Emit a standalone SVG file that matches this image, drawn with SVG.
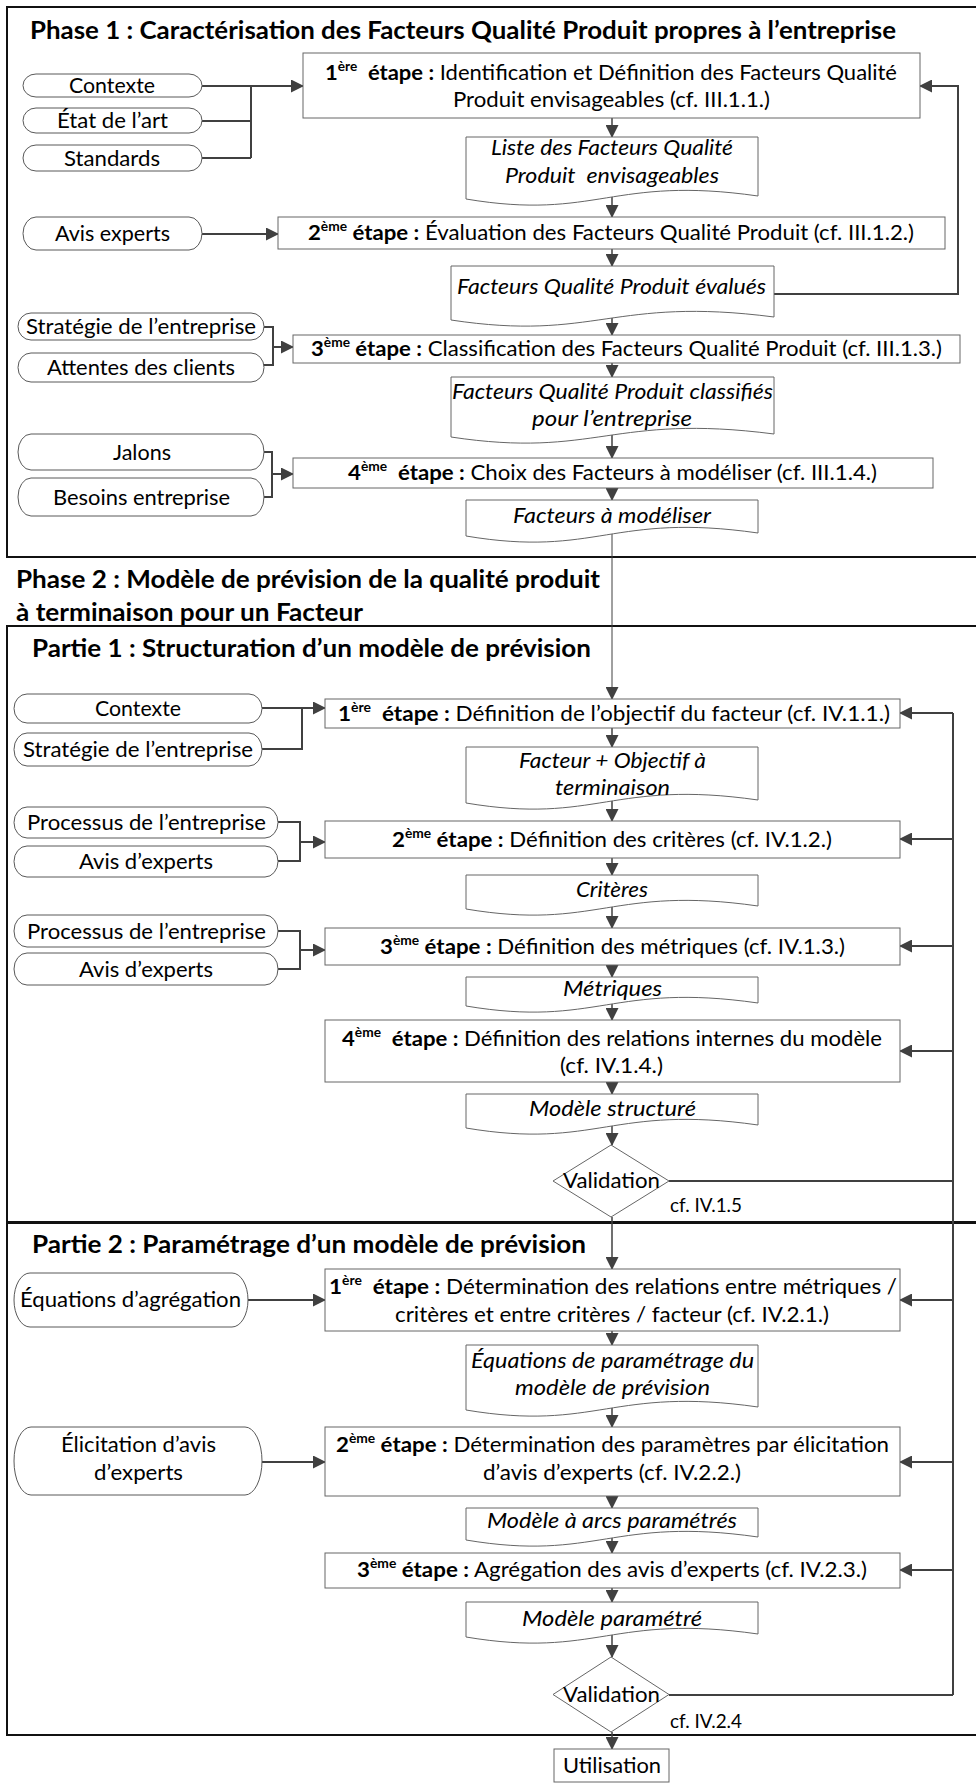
<svg xmlns="http://www.w3.org/2000/svg" width="976" height="1783" viewBox="0 0 976 1783">
<defs>
<marker id="ah" markerUnits="userSpaceOnUse" markerWidth="13" markerHeight="13" refX="12" refY="6.5" orient="auto"><path d="M0,0 L13,6.5 L0,13 z" fill="#404040"/></marker>
<style>
.frame{fill:none;stroke:#111;stroke-width:2}
.box{fill:#fff;stroke:#666;stroke-width:1}
.pill{fill:#fff;stroke:#595959;stroke-width:1}
.doc{fill:#fff;stroke:#666;stroke-width:1}
.c{fill:none;stroke:#404040;stroke-width:2}
.cs{fill:none;stroke:#404040;stroke-width:1.5}
.ct{fill:none;stroke:#404040;stroke-width:1}
.t{font-family:Lato,"Liberation Sans",sans-serif;font-size:21px;fill:#000}
.s{font-family:Lato,"Liberation Sans",sans-serif;font-size:20px;fill:#000}
.h{font-family:Lato,"Liberation Sans",sans-serif;font-size:25px;font-weight:bold;fill:#000}
.b{font-weight:bold}
.i{font-style:italic}
.sup{font-size:13px;font-weight:bold}
</style>
</defs>
<rect width="976" height="1783" fill="#fff"/>

<g id="frames">
<rect class="frame" x="7" y="7" width="980" height="550"/>
<rect class="frame" x="7" y="626" width="980" height="596"/>
<rect class="frame" x="7" y="1223" width="980" height="512"/>
</g>

<g id="titles">
<text class="h" x="30" y="39" textLength="866" lengthAdjust="spacingAndGlyphs">Phase 1 : Caractérisation des Facteurs Qualité Produit propres à l’entreprise</text>
<text class="h" x="16" y="588" textLength="584" lengthAdjust="spacingAndGlyphs">Phase 2 : Modèle de prévision de la qualité produit</text>
<text class="h" x="16" y="621" textLength="347" lengthAdjust="spacingAndGlyphs">à terminaison pour un Facteur</text>
<text class="h" x="32" y="657" textLength="559" lengthAdjust="spacingAndGlyphs">Partie 1 : Structuration d’un modèle de prévision</text>
<text class="h" x="32" y="1253" textLength="554" lengthAdjust="spacingAndGlyphs">Partie 2 : Paramétrage d’un modèle de prévision</text>
</g>

<g id="connectors">
<!-- Phase 1 -->
<path class="c" d="M202,86 H251 M202,121 H251 M202,158 H251 M251,86 V158"/>
<path class="c" d="M251,86 H303" marker-end="url(#ah)"/>
<path class="c" d="M202,234 H278" marker-end="url(#ah)"/>
<path class="c" d="M264,327 H273 V365 H264"/>
<path class="c" d="M273,347 H293" marker-end="url(#ah)"/>
<path class="c" d="M264,452 H272 V497 H264"/>
<path class="c" d="M272,474 H293" marker-end="url(#ah)"/>
<path class="cs" d="M612,118 V137" marker-end="url(#ah)"/>
<path class="cs" d="M612,197 V217" marker-end="url(#ah)"/>
<path class="cs" d="M612,249 V266" marker-end="url(#ah)"/>
<path class="cs" d="M612,318 V335" marker-end="url(#ah)"/>
<path class="cs" d="M612,363 V377" marker-end="url(#ah)"/>
<path class="cs" d="M612,435 V458" marker-end="url(#ah)"/>
<path class="cs" d="M612,488 V500" marker-end="url(#ah)"/>
<path class="c" d="M774,294 H958 V86 H920" marker-end="url(#ah)"/>
<path class="ct" d="M612,534 V699" marker-end="url(#ah)"/>
<!-- Partie 1 -->
<path class="c" d="M262,708 H325" marker-end="url(#ah)"/>
<path class="c" d="M262,749 H302 V708"/>
<path class="c" d="M278,822 H300 V861 H278"/>
<path class="c" d="M300,842 H325" marker-end="url(#ah)"/>
<path class="c" d="M278,931 H300 V969 H278"/>
<path class="c" d="M300,950 H325" marker-end="url(#ah)"/>
<path class="cs" d="M612,728 V747" marker-end="url(#ah)"/>
<path class="cs" d="M612,801 V821" marker-end="url(#ah)"/>
<path class="cs" d="M612,858 V875" marker-end="url(#ah)"/>
<path class="cs" d="M612,907 V928" marker-end="url(#ah)"/>
<path class="cs" d="M612,965 V977" marker-end="url(#ah)"/>
<path class="cs" d="M612,1004 V1020" marker-end="url(#ah)"/>
<path class="cs" d="M612,1082 V1094" marker-end="url(#ah)"/>
<path class="cs" d="M612,1126 V1145" marker-end="url(#ah)"/>
<path class="cs" d="M612,1217 V1269" marker-end="url(#ah)"/>
<path class="c" d="M669,1181 H953 M669,1695 H953 M953,1695 V713"/>
<path class="c" d="M953,713 H900" marker-end="url(#ah)"/>
<path class="c" d="M953,839 H900" marker-end="url(#ah)"/>
<path class="c" d="M953,946 H900" marker-end="url(#ah)"/>
<path class="c" d="M953,1051 H900" marker-end="url(#ah)"/>
<!-- Partie 2 -->
<path class="c" d="M248,1300 H325" marker-end="url(#ah)"/>
<path class="c" d="M262,1462 H325" marker-end="url(#ah)"/>
<path class="c" d="M953,1300 H900" marker-end="url(#ah)"/>
<path class="c" d="M953,1462 H900" marker-end="url(#ah)"/>
<path class="c" d="M953,1570 H900" marker-end="url(#ah)"/>
<path class="cs" d="M612,1331 V1345" marker-end="url(#ah)"/>
<path class="cs" d="M612,1408 V1427" marker-end="url(#ah)"/>
<path class="cs" d="M612,1496 V1508" marker-end="url(#ah)"/>
<path class="cs" d="M612,1538 V1553" marker-end="url(#ah)"/>
<path class="cs" d="M612,1588 V1602" marker-end="url(#ah)"/>
<path class="cs" d="M612,1635 V1657" marker-end="url(#ah)"/>
<path class="cs" d="M612,1732 V1749" marker-end="url(#ah)"/>
</g>

<!-- Phase 1 nodes -->
<g id="p1-step1">
<rect class="box" x="303" y="53" width="617" height="65"/>
<text class="t" x="325" y="80" textLength="572" lengthAdjust="spacingAndGlyphs"><tspan class="b">1</tspan><tspan class="sup" dy="-9">ère</tspan><tspan class="b" dy="9">&#160;&#160;étape :</tspan> Identification et Définition des Facteurs Qualité</text>
<text class="t" x="453" y="107" textLength="317" lengthAdjust="spacingAndGlyphs">Produit envisageables (cf. III.1.1.)</text>
</g>
<g id="p1-contexte"><rect class="pill" x="23" y="74" width="179" height="23" rx="13" ry="11.5"/><text class="t" x="69" y="93" textLength="86" lengthAdjust="spacingAndGlyphs">Contexte</text></g>
<g id="p1-etat"><rect class="pill" x="23" y="108" width="179" height="25" rx="13" ry="12.5"/><text class="t" x="57" y="128" textLength="111" lengthAdjust="spacingAndGlyphs">État de l’art</text></g>
<g id="p1-standards"><rect class="pill" x="23" y="145" width="179" height="26" rx="13" ry="13"/><text class="t" x="64" y="166" textLength="96" lengthAdjust="spacingAndGlyphs">Standards</text></g>
<g id="p1-doc1">
<path class="doc" d="M466,137 H758 V196 C612,175 597,221 466,199 Z"/>
<text class="t i" x="491" y="155" textLength="242" lengthAdjust="spacingAndGlyphs">Liste des Facteurs Qualité</text>
<text class="t i" x="505" y="183" textLength="214" lengthAdjust="spacingAndGlyphs">Produit&#160; envisageables</text>
</g>
<g id="p1-avis"><rect class="pill" x="23" y="217" width="179" height="33" rx="13" ry="16.5"/><text class="t" x="55" y="241" textLength="115" lengthAdjust="spacingAndGlyphs">Avis experts</text></g>
<g id="p1-step2">
<rect class="box" x="278" y="217" width="667" height="32"/>
<text class="t" x="308" y="240" textLength="606" lengthAdjust="spacingAndGlyphs"><tspan class="b">2</tspan><tspan class="sup" dy="-9">ème</tspan><tspan class="b" dy="9"> étape :</tspan> Évaluation des Facteurs Qualité Produit (cf. III.1.2.)</text>
</g>
<g id="p1-doc2">
<path class="doc" d="M451,266 H774 V317 C612,296 596,342 451,320 Z"/>
<text class="t i" x="457" y="294" textLength="309" lengthAdjust="spacingAndGlyphs">Facteurs Qualité Produit évalués</text>
</g>
<g id="p1-strategie"><rect class="pill" x="18" y="313" width="246" height="27" rx="13" ry="13.5"/><text class="t" x="26" y="334" textLength="230" lengthAdjust="spacingAndGlyphs">Stratégie de l’entreprise</text></g>
<g id="p1-attentes"><rect class="pill" x="18" y="353" width="246" height="29" rx="13" ry="14.5"/><text class="t" x="47" y="375" textLength="188" lengthAdjust="spacingAndGlyphs">Attentes des clients</text></g>
<g id="p1-step3">
<rect class="box" x="293" y="335" width="667" height="28"/>
<text class="t" x="311" y="356" textLength="631" lengthAdjust="spacingAndGlyphs"><tspan class="b">3</tspan><tspan class="sup" dy="-9">ème</tspan><tspan class="b" dy="9"> étape :</tspan> Classification des Facteurs Qualité Produit (cf. III.1.3.)</text>
</g>
<g id="p1-doc3">
<path class="doc" d="M451,377 H774 V434 C612,413 596,459 451,437 Z"/>
<text class="t i" x="452" y="399" textLength="321" lengthAdjust="spacingAndGlyphs">Facteurs Qualité Produit classifiés</text>
<text class="t i" x="532" y="426" textLength="160" lengthAdjust="spacingAndGlyphs">pour l’entreprise</text>
</g>
<g id="p1-jalons"><rect class="pill" x="18" y="434" width="246" height="36" rx="13" ry="18"/><text class="t" x="113" y="460" textLength="58" lengthAdjust="spacingAndGlyphs">Jalons</text></g>
<g id="p1-besoins"><rect class="pill" x="18" y="478" width="246" height="38" rx="13" ry="19"/><text class="t" x="53" y="505" textLength="177" lengthAdjust="spacingAndGlyphs">Besoins entreprise</text></g>
<g id="p1-step4">
<rect class="box" x="293" y="458" width="640" height="30"/>
<text class="t" x="348" y="480" textLength="529" lengthAdjust="spacingAndGlyphs"><tspan class="b">4</tspan><tspan class="sup" dy="-9">ème</tspan><tspan class="b" dy="9">&#160;&#160;étape :</tspan> Choix des Facteurs à modéliser (cf. III.1.4.)</text>
</g>
<g id="p1-doc4">
<path class="doc" d="M466,500 H758 V533 C612,512 597,558 466,536 Z"/>
<text class="t i" x="513" y="523" textLength="198" lengthAdjust="spacingAndGlyphs">Facteurs à modéliser</text>
</g>

<!-- Partie 1 nodes -->
<g id="pa1-contexte"><rect class="pill" x="14" y="694" width="248" height="29" rx="13" ry="14.5"/><text class="t" x="95" y="716" textLength="86" lengthAdjust="spacingAndGlyphs">Contexte</text></g>
<g id="pa1-strategie"><rect class="pill" x="14" y="733" width="248" height="33" rx="13" ry="16.5"/><text class="t" x="23" y="757" textLength="230" lengthAdjust="spacingAndGlyphs">Stratégie de l’entreprise</text></g>
<g id="pa1-step1">
<rect class="box" x="325" y="699" width="575" height="29"/>
<text class="t" x="338" y="721" textLength="552" lengthAdjust="spacingAndGlyphs"><tspan class="b">1</tspan><tspan class="sup" dy="-9">ère</tspan><tspan class="b" dy="9">&#160;&#160;étape :</tspan> Définition de l’objectif du facteur (cf. IV.1.1.)</text>
</g>
<g id="pa1-doc1">
<path class="doc" d="M466,747 H758 V800 C612,779 597,825 466,803 Z"/>
<text class="t i" x="519" y="768" textLength="187" lengthAdjust="spacingAndGlyphs">Facteur + Objectif à</text>
<text class="t i" x="555" y="795" textLength="115" lengthAdjust="spacingAndGlyphs">terminaison</text>
</g>
<g id="pa1-processus1"><rect class="pill" x="14" y="807" width="264" height="31" rx="13" ry="15.5"/><text class="t" x="27" y="830" textLength="239" lengthAdjust="spacingAndGlyphs">Processus de l’entreprise</text></g>
<g id="pa1-avis1"><rect class="pill" x="14" y="846" width="264" height="31" rx="13" ry="15.5"/><text class="t" x="79" y="869" textLength="134" lengthAdjust="spacingAndGlyphs">Avis d’experts</text></g>
<g id="pa1-step2">
<rect class="box" x="325" y="821" width="575" height="37"/>
<text class="t" x="392" y="847" textLength="440" lengthAdjust="spacingAndGlyphs"><tspan class="b">2</tspan><tspan class="sup" dy="-9">ème</tspan><tspan class="b" dy="9"> étape :</tspan> Définition des critères (cf. IV.1.2.)</text>
</g>
<g id="pa1-doc2">
<path class="doc" d="M466,875 H758 V906 C612,885 597,931 466,909 Z"/>
<text class="t i" x="576" y="897" textLength="72" lengthAdjust="spacingAndGlyphs">Critères</text>
</g>
<g id="pa1-processus2"><rect class="pill" x="14" y="915" width="264" height="32" rx="13" ry="16"/><text class="t" x="27" y="939" textLength="239" lengthAdjust="spacingAndGlyphs">Processus de l’entreprise</text></g>
<g id="pa1-avis2"><rect class="pill" x="14" y="953" width="264" height="32" rx="13" ry="16"/><text class="t" x="79" y="977" textLength="134" lengthAdjust="spacingAndGlyphs">Avis d’experts</text></g>
<g id="pa1-step3">
<rect class="box" x="325" y="928" width="575" height="37"/>
<text class="t" x="380" y="954" textLength="465" lengthAdjust="spacingAndGlyphs"><tspan class="b">3</tspan><tspan class="sup" dy="-9">ème</tspan><tspan class="b" dy="9"> étape :</tspan> Définition des métriques (cf. IV.1.3.)</text>
</g>
<g id="pa1-doc3">
<path class="doc" d="M466,977 H758 V1003 C612,982 597,1028 466,1006 Z"/>
<text class="t i" x="563" y="996" textLength="99" lengthAdjust="spacingAndGlyphs">Métriques</text>
</g>
<g id="pa1-step4">
<rect class="box" x="325" y="1020" width="575" height="62"/>
<text class="t" x="342" y="1046" textLength="540" lengthAdjust="spacingAndGlyphs"><tspan class="b">4</tspan><tspan class="sup" dy="-9">ème</tspan><tspan class="b" dy="9">&#160;&#160;étape :</tspan> Définition des relations internes du modèle</text>
<text class="t" x="560" y="1073" textLength="103" lengthAdjust="spacingAndGlyphs">(cf. IV.1.4.)</text>
</g>
<g id="pa1-doc4">
<path class="doc" d="M466,1094 H758 V1125 C612,1104 597,1150 466,1128 Z"/>
<text class="t i" x="529" y="1116" textLength="167" lengthAdjust="spacingAndGlyphs">Modèle structuré</text>
</g>
<g id="pa1-validation">
<path class="box" d="M611,1145 L669,1181 L611,1217 L553,1181 Z"/>
<text class="t" x="563" y="1188" textLength="97" lengthAdjust="spacingAndGlyphs">Validation</text>
<text class="s" x="670" y="1212" textLength="72" lengthAdjust="spacingAndGlyphs">cf. IV.1.5</text>
</g>

<!-- Partie 2 nodes -->
<g id="pa2-equations"><rect class="pill" x="14" y="1273" width="234" height="54" rx="16" ry="27"/><text class="t" x="20" y="1307" textLength="221" lengthAdjust="spacingAndGlyphs">Équations d’agrégation</text></g>
<g id="pa2-step1">
<rect class="box" x="325" y="1269" width="575" height="62"/>
<text class="t" x="329" y="1294" textLength="568" lengthAdjust="spacingAndGlyphs"><tspan class="b">1</tspan><tspan class="sup" dy="-9">ère</tspan><tspan class="b" dy="9">&#160;&#160;étape :</tspan> Détermination des relations entre métriques /</text>
<text class="t" x="395" y="1322" textLength="434" lengthAdjust="spacingAndGlyphs">critères et entre critères / facteur (cf. IV.2.1.)</text>
</g>
<g id="pa2-doc1">
<path class="doc" d="M466,1345 H758 V1407 C612,1386 597,1432 466,1410 Z"/>
<text class="t i" x="471" y="1368" textLength="283" lengthAdjust="spacingAndGlyphs">Équations de paramétrage du</text>
<text class="t i" x="515" y="1395" textLength="195" lengthAdjust="spacingAndGlyphs">modèle de prévision</text>
</g>
<g id="pa2-elicitation">
<rect class="pill" x="14" y="1427" width="248" height="68" rx="17" ry="34"/>
<text class="t" x="61" y="1452" textLength="155" lengthAdjust="spacingAndGlyphs">Élicitation d’avis</text>
<text class="t" x="94" y="1480" textLength="89" lengthAdjust="spacingAndGlyphs">d’experts</text>
</g>
<g id="pa2-step2">
<rect class="box" x="325" y="1427" width="575" height="69"/>
<text class="t" x="336" y="1452" textLength="553" lengthAdjust="spacingAndGlyphs"><tspan class="b">2</tspan><tspan class="sup" dy="-9">ème</tspan><tspan class="b" dy="9"> étape :</tspan> Détermination des paramètres par élicitation</text>
<text class="t" x="483" y="1480" textLength="258" lengthAdjust="spacingAndGlyphs">d’avis d’experts (cf. IV.2.2.)</text>
</g>
<g id="pa2-doc2">
<path class="doc" d="M466,1508 H758 V1537 C612,1516 597,1562 466,1540 Z"/>
<text class="t i" x="487" y="1528" textLength="250" lengthAdjust="spacingAndGlyphs">Modèle à arcs paramétrés</text>
</g>
<g id="pa2-step3">
<rect class="box" x="325" y="1553" width="575" height="35"/>
<text class="t" x="357" y="1577" textLength="510" lengthAdjust="spacingAndGlyphs"><tspan class="b">3</tspan><tspan class="sup" dy="-9">ème</tspan><tspan class="b" dy="9"> étape :</tspan> Agrégation des avis d’experts (cf. IV.2.3.)</text>
</g>
<g id="pa2-doc3">
<path class="doc" d="M466,1602 H758 V1634 C612,1613 597,1659 466,1637 Z"/>
<text class="t i" x="522" y="1626" textLength="180" lengthAdjust="spacingAndGlyphs">Modèle paramétré</text>
</g>
<g id="pa2-validation">
<path class="box" d="M611,1657 L669,1694.5 L611,1732 L553,1694.5 Z"/>
<text class="t" x="563" y="1702" textLength="97" lengthAdjust="spacingAndGlyphs">Validation</text>
<text class="s" x="670" y="1728" textLength="72" lengthAdjust="spacingAndGlyphs">cf. IV.2.4</text>
</g>
<g id="utilisation">
<rect class="box" x="554" y="1749" width="115" height="33"/>
<text class="t" x="563" y="1773" textLength="98" lengthAdjust="spacingAndGlyphs">Utilisation</text>
</g>
</svg>
